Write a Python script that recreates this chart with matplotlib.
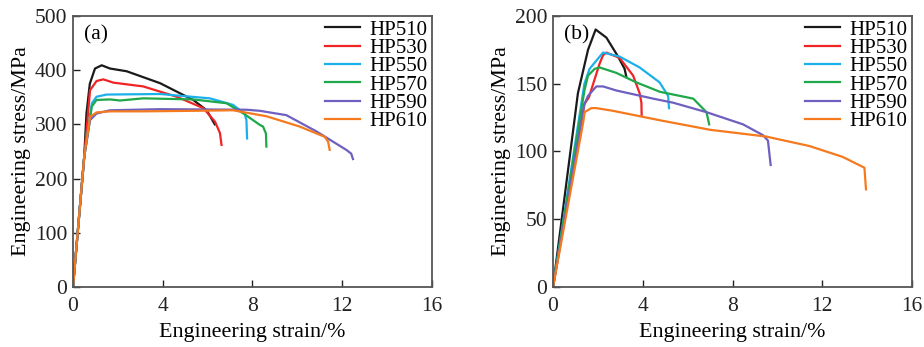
import matplotlib

matplotlib.use("Agg")
import matplotlib.pyplot as plt

plt.rcParams["font.family"] = ["Liberation Serif", "DejaVu Serif"]

LABELS = ["HP510", "HP530", "HP550", "HP570", "HP590", "HP610"]
COLORS = ["#1a1a1a", "#f02424", "#1cb0ea", "#1fa84a", "#6f5fbf", "#f57a1e"]

# (a) strain %, stress MPa
A_STRAIN = [
    [0, 0.5, 0.6, 0.75, 0.98, 1.28, 1.65, 2.39, 3.88, 5.36, 5.96, 6.25, 6.32],
    [0, 0.5, 0.76, 1.05, 1.35, 1.65, 1.8, 3.13, 4.62, 5.81, 6.33, 6.55, 6.62],
    [0, 0.5, 0.84, 1.05, 1.5, 3.88, 6.1, 7.13, 7.65, 7.73, 7.76],
    [0, 0.5, 0.84, 1.05, 1.65, 2.1, 3.13, 5.36, 6.84, 7.6, 8.33, 8.47, 8.6, 8.62],
    [0, 0.5, 0.76, 1.05, 1.65, 3.88, 7.73, 8.33, 9.51, 10.85, 12.18, 12.4, 12.48],
    [0, 0.5, 0.76, 1.05, 1.65, 3.13, 5.36, 7.13, 8.62, 10.1, 11.22, 11.37, 11.44],
]
A_STRESS = [
    [0, 240, 320, 375, 403, 409, 403, 398, 376, 345, 326, 305, 300],
    [0, 240, 363, 380, 383, 379, 377, 370, 351, 330, 305, 284, 262],
    [0, 240, 339, 351, 355, 356, 348, 336, 320, 308, 274],
    [0, 240, 333, 345, 346, 344, 348, 346, 339, 320, 299, 296, 283, 259],
    [0, 240, 308, 320, 326, 328, 327, 325, 317, 287, 253, 246, 236],
    [0, 240, 314, 322, 324, 324, 325, 326, 315, 296, 277, 268, 253],
]

# (b) strain %, stress MPa
B_STRAIN = [
    [0, 1.11, 1.56, 1.9, 2.38, 2.9, 3.19, 3.27],
    [0, 1.4, 1.6, 2.08, 2.23, 2.38, 2.97, 3.57, 3.86, 3.94, 3.95],
    [0, 1.4, 1.63, 2.23, 2.97, 3.86, 4.75, 5.13, 5.17],
    [0, 1.4, 1.56, 1.86, 2.08, 2.82, 3.71, 4.77, 6.25, 6.84, 6.96],
    [0, 1.4, 1.56, 1.93, 2.23, 2.82, 4.46, 5.35, 6.84, 8.47, 9.36, 9.58, 9.7],
    [0, 1.35, 1.41, 1.71, 1.93, 2.67, 4.77, 7.0, 9.5, 11.43, 12.91, 13.88, 13.95],
]
B_STRESS = [
    [0, 143, 175, 190, 184, 170, 161, 155],
    [0, 135, 140, 165, 171, 173, 169, 156, 143, 136, 127],
    [0, 150, 161, 173, 170, 162, 151, 141, 132],
    [0, 145, 156, 161, 162, 158, 151, 144, 139, 129, 120],
    [0, 135, 141, 148, 148, 145, 139, 136, 129, 120, 112, 108, 90],
    [0, 122, 129, 132, 132, 130, 123, 116, 111, 104, 96, 88, 72],
]

fig = plt.figure(figsize=(9.24, 3.47), dpi=100)
ax_a = fig.add_axes([0.079, 0.173, 0.3885, 0.781])
ax_b = fig.add_axes([0.5985, 0.173, 0.3885, 0.781])

panels = (
    (ax_a, A_STRAIN, A_STRESS, 500, 100, "(a)"),
    (ax_b, B_STRAIN, B_STRESS, 200, 50, "(b)"),
)
for ax, xs, ys, ymax, ystep, tag in panels:
    for x, y, c, lab in zip(xs, ys, COLORS, LABELS):
        ax.plot(x, y, color=c, lw=1.6, label=lab, solid_joinstyle="round")
    ax.set_xlim(0, 16)
    ax.set_ylim(0, ymax)
    ax.set_xticks(range(0, 17, 4))
    ax.set_yticks(range(0, ymax + 1, ystep))
    ax.tick_params(direction="in", length=5, width=1, labelsize=15.5, colors="#222222")
    ax.tick_params(axis="x", pad=7)
    ax.tick_params(axis="y", pad=4)
    for s in ax.spines.values():
        s.set_linewidth(1.3)
        s.set_color("#555555")
    ax.set_xlabel("Engineering strain/%", fontsize=15.8, labelpad=5)
    ax.set_ylabel("Engineering stress/MPa", fontsize=15.8, labelpad=3)
    ax.text(0.03, 0.965, tag, transform=ax.transAxes, fontsize=15.5, va="top", ha="left")
    ax.legend(loc="upper right", frameon=False, fontsize=15, handlelength=1.7,
              handletextpad=0.45, labelspacing=-0.06, borderaxespad=0.1,
              borderpad=0.1)

fig.savefig("out.png", dpi=100)
